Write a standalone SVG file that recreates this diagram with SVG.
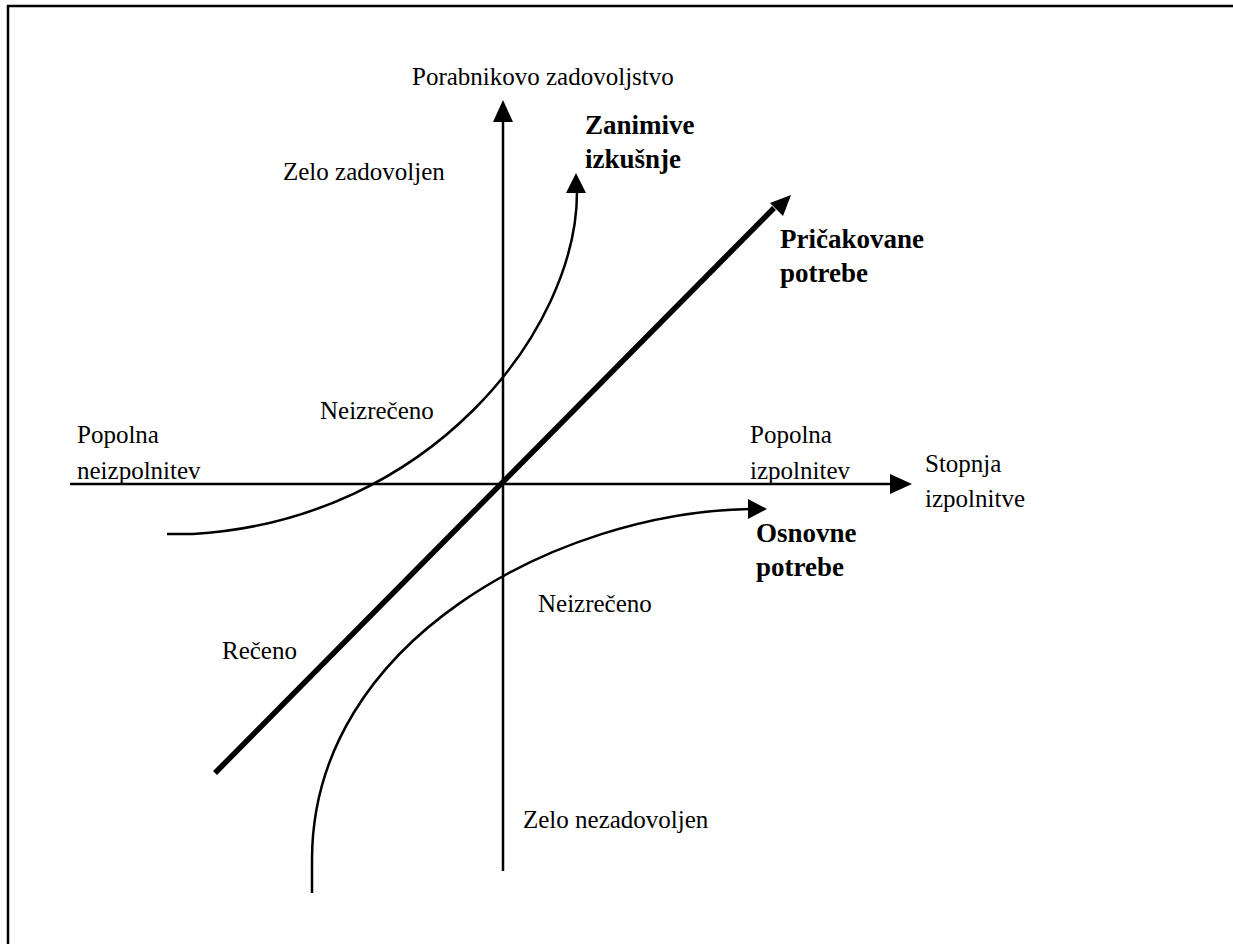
<svg xmlns="http://www.w3.org/2000/svg" width="1233" height="944" viewBox="0 0 1233 944">
  <style>
    .frame { fill: none; stroke: #000; stroke-width: 2.5; }
    .axis { fill: none; stroke: #000; stroke-width: 2.5; }
    .curve { fill: none; stroke: #000; stroke-width: 2.5; }
    .thick { fill: none; stroke: #000; stroke-width: 5.5; }
    .head { fill: #000; stroke: none; }
    text { font-family: "Liberation Serif", "Times New Roman", serif; fill: #000; }
    .lbl { font-size: 25px; }
    .bold { font-size: 27px; font-weight: bold; }
  </style>
  <rect width="1233" height="944" fill="#fff"/>
  <path class="frame" d="M8,944 V6 H1233"/>

  <g id="connectors">
    <!-- vertical axis: satisfaction -->
    <path class="axis" d="M503,871 V120"/>
    <polygon class="head" points="503,100 493,122 513,122"/>
    <!-- horizontal axis: degree of fulfilment -->
    <path class="axis" d="M70,484 H892"/>
    <polygon class="head" points="912,484 890,474 890,494"/>
    <!-- diagonal: expected needs -->
    <path class="thick" d="M215,773 L774,208"/>
    <polygon class="head" points="791,195 770,203 783,216"/>
    <!-- exciting experiences curve -->
    <path class="curve" d="M167,534 H193 C430,520 577,330 577,192"/>
    <polygon class="head" points="576,173 566,193 586,193"/>
    <!-- basic needs curve -->
    <path class="curve" d="M312,893 V860 C312,640 560,512 750,509"/>
    <polygon class="head" points="767,509 748,499 748,519"/>
  </g>

  <g id="label-y-axis"><text class="lbl" x="412" y="85">Porabnikovo zadovoljstvo</text></g>
  <g id="label-very-satisfied"><text class="lbl" x="283" y="180">Zelo zadovoljen</text></g>
  <g id="label-exciting">
    <text class="bold" x="585" y="134">Zanimive</text>
    <text class="bold" x="585" y="168">izkušnje</text>
  </g>
  <g id="label-expected">
    <text class="bold" x="780" y="248">Pričakovane</text>
    <text class="bold" x="780" y="282">potrebe</text>
  </g>
  <g id="label-unspoken-upper"><text class="lbl" x="320" y="419">Neizrečeno</text></g>
  <g id="label-none">
    <text class="lbl" x="77" y="443">Popolna</text>
    <text class="lbl" x="77" y="479">neizpolnitev</text>
  </g>
  <g id="label-full">
    <text class="lbl" x="750" y="443">Popolna</text>
    <text class="lbl" x="750" y="479">izpolnitev</text>
  </g>
  <g id="label-x-axis">
    <text class="lbl" x="925" y="472">Stopnja</text>
    <text class="lbl" x="925" y="507">izpolnitve</text>
  </g>
  <g id="label-basic">
    <text class="bold" x="756" y="542">Osnovne</text>
    <text class="bold" x="756" y="576">potrebe</text>
  </g>
  <g id="label-unspoken-lower"><text class="lbl" x="538" y="612">Neizrečeno</text></g>
  <g id="label-spoken"><text class="lbl" x="222" y="659">Rečeno</text></g>
  <g id="label-very-dissatisfied"><text class="lbl" x="523" y="828">Zelo nezadovoljen</text></g>
</svg>
